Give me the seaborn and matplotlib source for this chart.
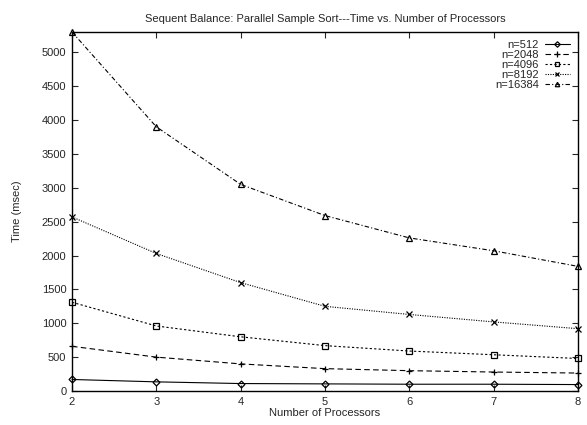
import matplotlib
matplotlib.use("Agg")
import matplotlib.pyplot as plt
import seaborn as sns
import pandas as pd

processors = [2, 3, 4, 5, 6, 7, 8]
n512 = [170, 135, 110, 105, 100, 100, 95]
n2048 = [660, 500, 400, 330, 300, 280, 265]
n4096 = [1310, 960, 800, 670, 590, 535, 480]
n8192 = [2570, 2030, 1600, 1250, 1130, 1020, 920]
n16384 = [5300, 3900, 3050, 2590, 2260, 2070, 1840]
labels = ["n=512", "n=2048", "n=4096", "n=8192", "n=16384"]
yticks = list(range(0, 5001, 500))

series = [n512, n2048, n4096, n8192, n16384]
styles = [
    dict(marker="D", linestyle="-", markersize=3.5),
    dict(marker="+", linestyle=(0, (5, 3)), markersize=5),
    dict(marker="s", linestyle=(0, (2, 2)), markersize=4),
    dict(marker="x", linestyle=(0, (1, 1.2)), markersize=4),
    dict(marker="^", linestyle=(0, (4, 2, 1, 2)), markersize=4),
]

sns.set_style("ticks")
plt.rcParams["font.family"] = ["Liberation Sans", "DejaVu Sans"]

fig = plt.figure(figsize=(5.87, 4.25), dpi=100)
ax = fig.add_axes([72 / 587, 1 - 391 / 425, (578 - 72) / 587, (391 - 32) / 425])

for vals, lab, st in zip(series, labels, styles):
    df = pd.DataFrame({"p": processors, "t": vals})
    sns.lineplot(data=df, x="p", y="t", ax=ax, color="black", linewidth=0.8,
                 label=lab, fillstyle="none", markeredgewidth=0.9,
                 markeredgecolor="black", markerfacecolor="none", clip_on=False, **st)

ax.set_xlim(2, 8)
ax.set_ylim(0, 5300)
ax.set_xticks(processors)
ax.set_yticks(yticks)
ax.tick_params(direction="in", top=True, right=True, labelsize=8, length=4, width=0.8, pad=4)
for s in ax.spines.values():
    s.set_linewidth(1.0)
    s.set_color("black")
ax.set_xlabel("Number of Processors", fontsize=8, labelpad=1)
ax.set_ylabel("Time (msec)", fontsize=8, labelpad=14)
ax.set_title("Sequent Balance: Parallel Sample Sort---Time vs. Number of Processors", fontsize=8, pad=7)

leg = ax.legend(loc="upper right", markerfirst=False, frameon=False, fontsize=8,
                handlelength=2.3, labelspacing=0.0, handletextpad=0.5,
                borderaxespad=0.3, markerscale=0.8)

fig.savefig("out.png", dpi=100)
